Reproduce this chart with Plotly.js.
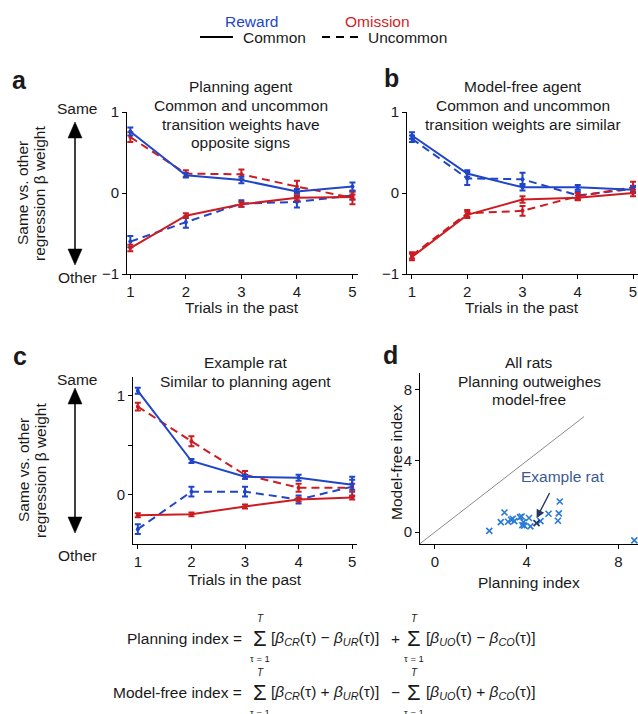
<!DOCTYPE html>
<html>
<head>
<meta charset="utf-8">
<script src="https://cdn.plot.ly/plotly-3.0.1.min.js"></script>
<style>html,body{margin:0;padding:0;background:#fff;}#chart{width:638px;height:714px;}</style>
</head>
<body>
<div id="chart"></div>
<script>
// ---------- DATA ----------
const trials = [1, 2, 3, 4, 5];

// Panel a: Planning agent
const a_rewardCommon      = [0.76, 0.22, 0.16, 0.02, 0.08];
const a_rewardCommonErr   = [0.05, 0.03, 0.04, 0.03, 0.05];
const a_rewardUncommon    = [-0.60, -0.36, -0.13, -0.11, -0.03];
const a_rewardUncommonErr = [0.07, 0.07, 0.04, 0.07, 0.05];
const a_omisCommon        = [-0.68, -0.28, -0.14, -0.06, -0.05];
const a_omisCommonErr     = [0.04, 0.03, 0.03, 0.03, 0.03];
const a_omisUncommon      = [0.69, 0.24, 0.23, 0.08, -0.06];
const a_omisUncommonErr   = [0.06, 0.04, 0.06, 0.07, 0.08];

// Panel b: Model-free agent
const b_rewardCommon      = [0.71, 0.24, 0.07, 0.07, 0.04];
const b_rewardCommonErr   = [0.04, 0.04, 0.04, 0.03, 0.03];
const b_rewardUncommon    = [0.67, 0.18, 0.17, -0.03, 0.05];
const b_rewardUncommonErr = [0.04, 0.08, 0.08, 0.05, 0.04];
const b_omisCommon        = [-0.79, -0.27, -0.08, -0.06, 0.00];
const b_omisCommonErr     = [0.04, 0.04, 0.04, 0.03, 0.04];
const b_omisUncommon      = [-0.77, -0.25, -0.22, -0.04, 0.07];
const b_omisUncommonErr   = [0.04, 0.04, 0.06, 0.04, 0.07];

// Panel c: Example rat
const c_rewardCommon      = [1.05, 0.34, 0.18, 0.17, 0.10];
const c_rewardCommonErr   = [0.03, 0.02, 0.02, 0.03, 0.05];
const c_rewardUncommon    = [-0.35, 0.03, 0.03, -0.05, 0.08];
const c_rewardUncommonErr = [0.05, 0.05, 0.05, 0.04, 0.10];
const c_omisCommon        = [-0.21, -0.20, -0.12, -0.05, -0.03];
const c_omisCommonErr     = [0.02, 0.02, 0.02, 0.02, 0.02];
const c_omisUncommon      = [0.89, 0.54, 0.20, 0.07, 0.07];
const c_omisUncommonErr   = [0.04, 0.05, 0.04, 0.04, 0.04];

// Panel d: All rats
const planningIdx  = [2.37, 2.87, 3.03, 3.19, 3.32, 3.39, 3.46, 3.71, 3.78, 3.86, 3.81, 3.89, 4.10, 4.16, 4.60, 4.95, 5.36, 5.40, 5.44, 8.69];
const modelFreeIdx = [0.07, 0.56, 1.10, 0.58, 0.69, 0.75, 0.62, 0.84, 0.88, 0.56, 0.39, 0.36, 0.79, 0.32, 0.62, 1.03, 0.64, 1.05, 1.72, -0.47];
const exampleRatPlanning  = [4.43];
const exampleRatModelFree = [0.51];
const identityLine = [-0.66, 6.5];

const trialTicks = [1, 2, 3, 4, 5];
const betaTicksAB = [-1, 0, 1];
const betaTicksC = [0, 0.5, 1];
const betaTickTextC = ['0', ' ', '1'];
const indexTicks = [0, 4, 8];

// ---------- STYLE ----------
const W = 638, H = 714;
const FONT = 'Liberation Sans, Arial, Helvetica, sans-serif';
const BLUE = '#1f45c8';
const RED = '#cc1c22';
const TXT = '#1a1a1a';
const DASH = '8px,5px';

function lineTrace(y, err, color, dash, xa, ya) {
  return {
    x: trials, y: y, xaxis: xa, yaxis: ya,
    type: 'scatter', mode: 'lines+markers',
    line: {color: color, width: 2, dash: dash},
    marker: {color: color, size: 4},
    error_y: {type: 'data', array: err, visible: true, color: color, thickness: 2, width: 3},
    hoverinfo: 'skip'
  };
}

const data = [
  lineTrace(a_rewardUncommon, a_rewardUncommonErr, BLUE, DASH, 'x', 'y'),
  lineTrace(a_omisUncommon, a_omisUncommonErr, RED, DASH, 'x', 'y'),
  lineTrace(a_rewardCommon, a_rewardCommonErr, BLUE, 'solid', 'x', 'y'),
  lineTrace(a_omisCommon, a_omisCommonErr, RED, 'solid', 'x', 'y'),

  lineTrace(b_rewardUncommon, b_rewardUncommonErr, BLUE, DASH, 'x2', 'y2'),
  lineTrace(b_omisUncommon, b_omisUncommonErr, RED, DASH, 'x2', 'y2'),
  lineTrace(b_rewardCommon, b_rewardCommonErr, BLUE, 'solid', 'x2', 'y2'),
  lineTrace(b_omisCommon, b_omisCommonErr, RED, 'solid', 'x2', 'y2'),

  lineTrace(c_rewardUncommon, c_rewardUncommonErr, BLUE, DASH, 'x3', 'y3'),
  lineTrace(c_omisUncommon, c_omisUncommonErr, RED, DASH, 'x3', 'y3'),
  lineTrace(c_rewardCommon, c_rewardCommonErr, BLUE, 'solid', 'x3', 'y3'),
  lineTrace(c_omisCommon, c_omisCommonErr, RED, 'solid', 'x3', 'y3'),

  {x: identityLine, y: identityLine, xaxis: 'x4', yaxis: 'y4', type: 'scatter', mode: 'lines',
   line: {color: '#8a8a8a', width: 1}, hoverinfo: 'skip'},
  {x: planningIdx, y: modelFreeIdx, xaxis: 'x4', yaxis: 'y4', type: 'scatter', mode: 'markers',
   marker: {symbol: 'x-thin', size: 6, color: '#2a7bd4', line: {color: '#2a7bd4', width: 1.6}}, hoverinfo: 'skip', cliponaxis: false},
  {x: exampleRatPlanning, y: exampleRatModelFree, xaxis: 'x4', yaxis: 'y4', type: 'scatter', mode: 'markers',
   marker: {symbol: 'x-thin', size: 6, color: '#1f3a6e', line: {color: '#1f3a6e', width: 1.8}}, hoverinfo: 'skip'}
];

function px(x) { return x / W; }
function py(y) { return 1 - y / H; }

function axis(x0, x1, range, tickvals, ticktext, anchor, isY) {
  const ax = {
    domain: isY ? [py(x1), py(x0)] : [px(x0), px(x1)],
    range: range, anchor: anchor,
    showline: true, linecolor: '#000', linewidth: 1,
    ticks: 'outside', ticklen: 4, tickwidth: 1, tickcolor: '#000',
    showgrid: false, zeroline: false,
    tickvals: tickvals,
    tickfont: {family: FONT, size: 15, color: TXT},
    fixedrange: true
  };
  if (ticktext) ax.ticktext = ticktext;
  return ax;
}

function txt(text, x, y, size, extra) {
  return Object.assign({
    text: text, x: px(x), y: py(y), xref: 'paper', yref: 'paper',
    showarrow: false, xanchor: 'center', yanchor: 'middle',
    font: {family: FONT, size: size, color: TXT}
  }, extra || {});
}

const annotations = [
  // legend
  txt('Reward', 251, 21, 15.5, {font: {family: FONT, size: 15.5, color: '#2146cc'}}),
  txt('Omission', 377, 21, 15.5, {font: {family: FONT, size: 15.5, color: '#d01f26'}}),
  txt('Common', 241, 37, 15.5, {xanchor: 'left'}),
  txt('Uncommon', 366, 37, 15.5, {xanchor: 'left'}),

  // panel letters
  txt('<b>a</b>', 20, 80, 25),
  txt('<b>b</b>', 391, 78, 25),
  txt('<b>c</b>', 20, 356, 25),
  txt('<b>d</b>', 390, 355, 25),

  // panel titles
  txt('Planning agent', 241, 86, 15.5),
  txt('Common and uncommon', 241, 105, 15.5),
  txt('transition weights have', 241, 124, 15.5),
  txt('opposite signs', 241, 143, 15.5),

  txt('Model-free agent', 523, 86, 15.5),
  txt('Common and uncommon', 523, 105, 15.5),
  txt('transition weights are similar', 523, 124, 15.5),

  txt('Example rat', 245, 362, 15.5),
  txt('Similar to planning agent', 245, 381, 15.5),

  txt('All rats', 529, 362, 15.5),
  txt('Planning outweighes', 529, 381, 15.5),
  txt('model-free', 529, 399, 15.5),

  // axis titles
  txt('Trials in the past', 242, 307, 15.5),
  txt('Trials in the past', 522, 307, 15.5),
  txt('Trials in the past', 245, 579, 15.5),
  txt('Planning index', 529, 582, 15.5),
  txt('Model-free index', 396, 462, 15.5, {textangle: -90}),
  txt('Same vs. other', 23, 193, 15.5, {textangle: -90}),
  txt('regression β weight', 40, 193, 15.5, {textangle: -90}),
  txt('Same vs. other', 23, 470, 15.5, {textangle: -90}),
  txt('regression β weight', 40, 470, 15.5, {textangle: -90}),

  // Same / Other
  txt('Same', 77, 108, 15.5),
  txt('Other', 77, 278, 15.5),
  txt('Same', 77, 379, 15.5),
  txt('Other', 77, 555, 15.5),

  // example rat label + arrow
  txt('Example rat', 562, 476, 15.5, {font: {family: FONT, size: 15.5, color: '#3b5a8f'}}),
  {x: 4.43, y: 0.78, xref: 'x4', yref: 'y4', text: ' ', showarrow: true,
   axref: 'pixel', ayref: 'pixel', ax: 16, ay: -31,
   arrowhead: 2, arrowsize: 1.2, arrowwidth: 1.4, arrowcolor: '#23375f'},
];

// Equations
function eq(y, label, b1, op, b2) {
  const sig = {borderpad: 0};
  const sm = {borderpad: 0};
  return [
    txt(label, 244, y, 15.5, {xanchor: 'right'}),
    txt('Σ', 260, y, 22, sig),
    txt('<i>T</i>', 260, y - 20, 10, sm),
    txt('τ = 1', 260, y + 20, 9.5, sm),
    txt(b1, 269, y, 15.5, {xanchor: 'left'}),
    txt(op, 395, y, 15.5),
    txt('Σ', 414, y, 22, sig),
    txt('<i>T</i>', 414, y - 20, 10, sm),
    txt('τ = 1', 414, y + 20, 9.5, sm),
    txt(b2, 424, y, 15.5, {xanchor: 'left'})
  ];
}
const B = '<i>β</i>';
function sub(s) { return '<sub><i>' + s + '</i></sub>'; }
annotations.push(...eq(638, 'Planning index =',
  '[' + B + sub('CR') + '(τ) − ' + B + sub('UR') + '(τ)]', '+',
  '[' + B + sub('UO') + '(τ) − ' + B + sub('CO') + '(τ)]'));
annotations.push(...eq(692, 'Model-free index =',
  '[' + B + sub('CR') + '(τ) + ' + B + sub('UR') + '(τ)]', '−',
  '[' + B + sub('UO') + '(τ) + ' + B + sub('CO') + '(τ)]'));

// Shapes: legend lines and double arrows
function pline(x0, y0, x1, y1, w, dash) {
  return {type: 'line', xref: 'paper', yref: 'paper', x0: px(x0), y0: py(y0), x1: px(x1), y1: py(y1),
          line: {color: '#000', width: w, dash: dash || 'solid'}};
}
function tri(x, tipY, dir) {
  const by = tipY + dir * 16;
  const p = 'M ' + px(x - 7) + ',' + py(by) + ' L ' + px(x) + ',' + py(tipY) + ' L ' + px(x + 7) + ',' + py(by) + ' Z';
  return {type: 'path', xref: 'paper', yref: 'paper', path: p, fillcolor: '#000', line: {color: '#000', width: 0.5}};
}
const shapes = [
  pline(200, 37, 233, 37, 2),
  pline(322, 37, 360, 37, 2, '8px,6px'),
  pline(75, 134, 75, 253, 1.5), tri(75, 122, 1), tri(75, 265, -1),
  pline(75, 400, 75, 521, 1.5), tri(75, 388, 1), tri(75, 533, -1)
];

const layout = {
  width: W, height: H,
  margin: {l: 0, r: 0, t: 0, b: 0},
  paper_bgcolor: '#fff', plot_bgcolor: 'rgba(0,0,0,0)',
  showlegend: false,
  font: {family: FONT, color: TXT},
  xaxis:  axis(127, 358, [0.94, 5.1], trialTicks, null, 'y', false),
  yaxis:  axis(112, 274, [-1, 1], betaTicksAB, null, 'x', true),
  xaxis2: axis(407, 638, [0.91, 5.09], trialTicks, null, 'y2', false),
  yaxis2: axis(112, 274, [-1, 1], betaTicksAB, null, 'x2', true),
  xaxis3: axis(133, 357, [0.91, 5.09], trialTicks, null, 'y3', false),
  yaxis3: axis(377, 544, [-0.5, 1.19], betaTicksC, betaTickTextC, 'x3', true),
  xaxis4: axis(420, 638, [-0.65, 8.85], indexTicks, null, 'y4', false),
  yaxis4: axis(373, 544, [-0.67, 8.95], indexTicks, null, 'x4', true),
  annotations: annotations,
  shapes: shapes
};

Plotly.newPlot('chart', data, layout, {staticPlot: true, displayModeBar: false});
</script>
</body>
</html>
